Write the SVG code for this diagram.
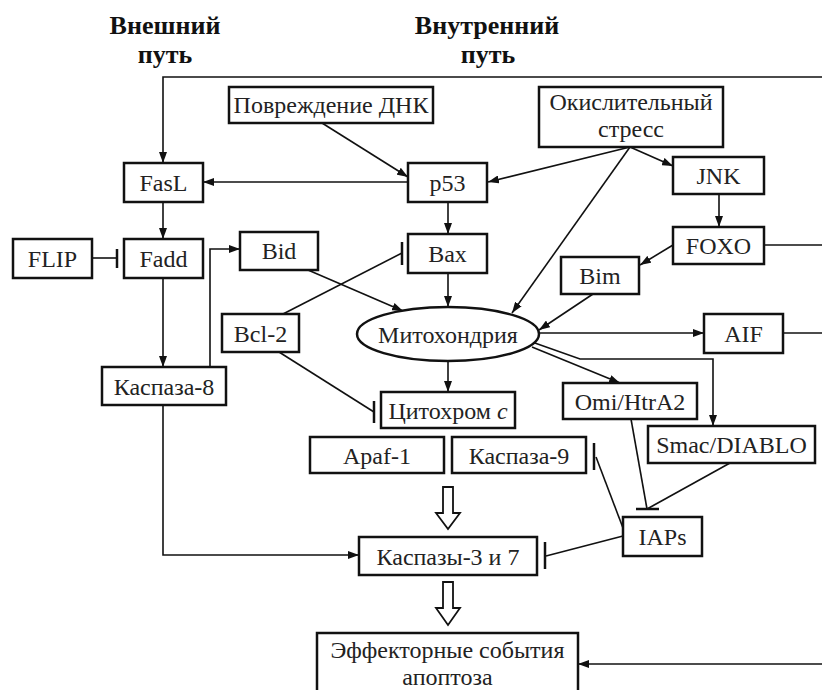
<svg xmlns="http://www.w3.org/2000/svg" width="822" height="690" viewBox="0 0 822 690">
<defs>
<marker id="arr" markerUnits="userSpaceOnUse" markerWidth="11" markerHeight="8" refX="11" refY="4" orient="auto">
<path d="M0,0 L11,4 L0,8 z" fill="#111"/>
</marker>
<style>
.box{fill:#fff;stroke:#111;stroke-width:2.5}
.t{font-size:24px;fill:#222;text-anchor:middle}
.h{font-size:26px;font-weight:bold;fill:#111;text-anchor:middle}
.ln{fill:none;stroke:#111;stroke-width:1.6}
.a{marker-end:url(#arr)}
.bar{stroke:#111;stroke-width:2.5}
.hollow{fill:#fff;stroke:#111;stroke-width:1.8;stroke-linejoin:miter}
</style>
</defs>
<rect width="822" height="690" fill="#fff"/>

<g id="headers" font-family="Liberation Serif, Times New Roman, serif">
<text class="h" x="165" y="34">Внешний</text>
<text class="h" x="165" y="63">путь</text>
<text class="h" x="487" y="34">Внутренний</text>
<text class="h" x="488" y="63">путь</text>
</g>

<g id="connectors">
<path class="ln a" d="M822,77 H163 V163"/>
<path class="ln a" d="M322,123 L408,177"/>
<path class="ln a" d="M408,182 H203"/>
<path class="ln a" d="M630,147 L488,182"/>
<path class="ln a" d="M630,147 L673,166"/>
<path class="ln a" d="M630,147 L512,313"/>
<path class="ln a" d="M448,202 V234"/>
<path class="ln a" d="M719,194 V227"/>
<path class="ln a" d="M163,202 V239"/>
<path class="ln" d="M92,258 H117"/>
<line class="bar" x1="117" y1="249" x2="117" y2="268"/>
<path class="ln a" d="M163,278 V367"/>
<path class="ln a" d="M210,367 V249 H240"/>
<path class="ln a" d="M308,270 L403,311"/>
<path class="ln" d="M283,314 L402,253"/>
<line class="bar" x1="402" y1="242" x2="402" y2="265"/>
<path class="ln" d="M279,352 L374,412"/>
<line class="bar" x1="374" y1="401" x2="374" y2="423"/>
<path class="ln a" d="M673,245 L640,265"/>
<path class="ln" d="M764,245 H822"/>
<path class="ln a" d="M593,294 L539,330"/>
<path class="ln a" d="M448,273 V307"/>
<path class="ln a" d="M539,333 H704"/>
<path class="ln" d="M783,333 H822"/>
<path class="ln a" d="M448,361 V392"/>
<path class="ln a" d="M532,347 L620,383"/>
<path class="ln a" d="M532,342 L580,359 H713 V426"/>
<path class="ln" d="M631,419 L647,509"/>
<path class="ln" d="M730,463 L647,509"/>
<line class="bar" x1="636" y1="509" x2="659" y2="509"/>
<path class="ln" d="M623,528 L596,457"/>
<line class="bar" x1="594" y1="443" x2="594" y2="470"/>
<path class="ln" d="M623,536 L546,556"/>
<line class="bar" x1="545" y1="542" x2="545" y2="569"/>
<path class="ln a" d="M163,405 V555 H359"/>
<path class="ln a" d="M822,664 H578"/>
<path class="hollow" d="M443,487 H453 V513 H460 L448,529 L436,513 H443 Z"/>
<path class="hollow" d="M443,582 H453 V608 H460 L448,625 L436,608 H443 Z"/>
</g>

<g id="nodes" font-family="Liberation Serif, Times New Roman, serif">
<g id="dna"><rect class="box" x="229" y="87" width="204" height="36"/><text class="t" x="331" y="113">Повреждение ДНК</text></g>
<g id="oxstress"><rect class="box" x="539" y="87" width="184" height="60"/><text class="t" x="631" y="110">Окислительный</text><text class="t" x="631" y="137">стресс</text></g>
<g id="fasl"><rect class="box" x="124" y="163" width="79" height="39"/><text class="t" x="163.5" y="191">FasL</text></g>
<g id="p53"><rect class="box" x="408" y="163" width="79" height="39"/><text class="t" x="447.5" y="191">p53</text></g>
<g id="jnk"><rect class="box" x="673" y="157" width="91" height="37"/><text class="t" x="718.5" y="184">JNK</text></g>
<g id="flip"><rect class="box" x="13" y="239" width="79" height="39"/><text class="t" x="52.5" y="267">FLIP</text></g>
<g id="fadd"><rect class="box" x="124" y="239" width="79" height="39"/><text class="t" x="163.5" y="267">Fadd</text></g>
<g id="bid"><rect class="box" x="240" y="232" width="78" height="38"/><text class="t" x="279" y="259">Bid</text></g>
<g id="bax"><rect class="box" x="408" y="234" width="79" height="39"/><text class="t" x="447.5" y="262">Bax</text></g>
<g id="foxo"><rect class="box" x="673" y="227" width="91" height="37"/><text class="t" x="718.5" y="254">FOXO</text></g>
<g id="bim"><rect class="box" x="561" y="257" width="78" height="37"/><text class="t" x="600" y="284">Bim</text></g>
<g id="bcl2"><rect class="box" x="222" y="314" width="77" height="38"/><text class="t" x="260.5" y="342">Bcl-2</text></g>
<g id="mito"><ellipse class="box" cx="448" cy="334" rx="91" ry="27"/><text class="t" x="448" y="343">Митохондрия</text></g>
<g id="aif"><rect class="box" x="704" y="314" width="79" height="39"/><text class="t" x="743.5" y="342">AIF</text></g>
<g id="casp8"><rect class="box" x="102" y="367" width="124" height="38"/><text class="t" x="164" y="395">Каспаза-8</text></g>
<g id="cytc"><rect class="box" x="381" y="392" width="134" height="36"/><text class="t" x="448" y="419">Цитохром <tspan font-style="italic">c</tspan></text></g>
<g id="omi"><rect class="box" x="563" y="383" width="134" height="36"/><text class="t" x="630" y="410">Omi/HtrA2</text></g>
<g id="smac"><rect class="box" x="648" y="426" width="167" height="37"/><text class="t" x="731.5" y="453">Smac/DIABLO</text></g>
<g id="apaf1"><rect class="box" x="310" y="437" width="134" height="36"/><text class="t" x="377" y="464">Apaf-1</text></g>
<g id="casp9"><rect class="box" x="452" y="437" width="134" height="36"/><text class="t" x="519" y="464">Каспаза-9</text></g>
<g id="iaps"><rect class="box" x="623" y="517" width="79" height="39"/><text class="t" x="662.5" y="545">IAPs</text></g>
<g id="casp37"><rect class="box" x="359" y="537" width="178" height="38"/><text class="t" x="448" y="565">Каспазы-3 и 7</text></g>
<g id="effector"><rect class="box" x="317" y="633" width="261" height="70"/><text class="t" x="447.5" y="658">Эффекторные события</text><text class="t" x="447.5" y="685">апоптоза</text></g>
</g>
</svg>
